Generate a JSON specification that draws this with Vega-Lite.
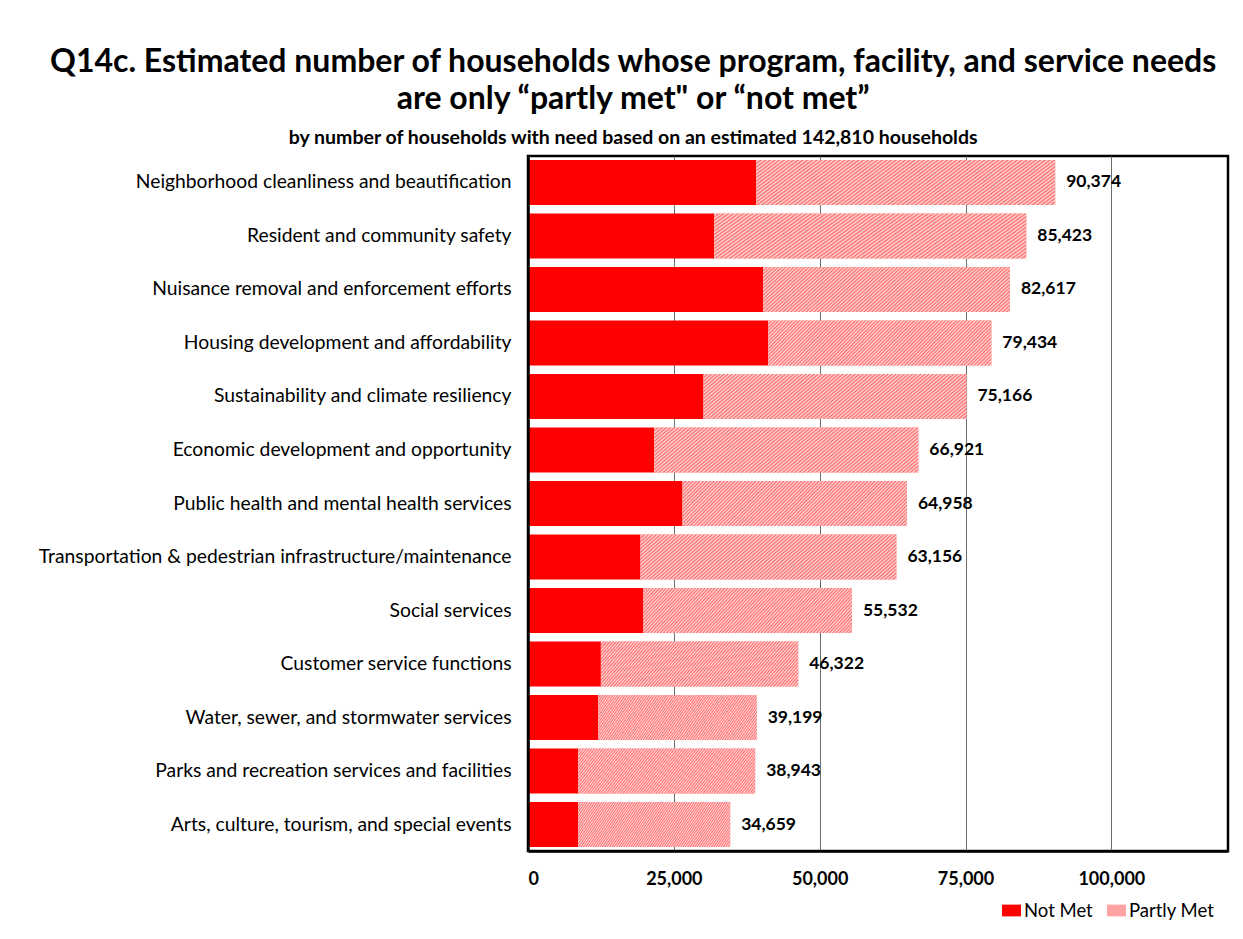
{
  "$schema": "https://vega.github.io/schema/vega-lite/v6.json",
  "width": 700,
  "height": 695,
  "autosize": {"type": "none"},
  "padding": {"left": 528, "top": 156, "right": 15, "bottom": 88},
  "background": "white",
  "title": {
    "text": ["Q14c. Estimated number of households whose program, facility, and service needs", "are only “partly met\" or “not met”"],
    "subtitle": "by number of households with need based on an estimated 142,810 households",
    "anchor": "middle",
    "frame": "bounds",
    "font": "Lato",
    "fontSize": 32,
    "fontWeight": "bold",
    "color": "#000000",
    "lineHeight": 37,
    "subtitleFont": "Lato",
    "subtitleFontSize": 19.5,
    "subtitleFontWeight": "bold",
    "subtitleColor": "#000000",
    "subtitlePadding": 13,
    "offset": 8
  },
  "data": {
    "values": [
      {"category": "Neighborhood cleanliness and beautification", "status": "Not Met", "households": 39150},
      {"category": "Neighborhood cleanliness and beautification", "status": "Partly Met", "households": 51224},
      {"category": "Resident and community safety", "status": "Not Met", "households": 31900},
      {"category": "Resident and community safety", "status": "Partly Met", "households": 53523},
      {"category": "Nuisance removal and enforcement efforts", "status": "Not Met", "households": 40300},
      {"category": "Nuisance removal and enforcement efforts", "status": "Partly Met", "households": 42317},
      {"category": "Housing development and affordability", "status": "Not Met", "households": 41200},
      {"category": "Housing development and affordability", "status": "Partly Met", "households": 38234},
      {"category": "Sustainability and climate resiliency", "status": "Not Met", "households": 30100},
      {"category": "Sustainability and climate resiliency", "status": "Partly Met", "households": 45066},
      {"category": "Economic development and opportunity", "status": "Not Met", "households": 21600},
      {"category": "Economic development and opportunity", "status": "Partly Met", "households": 45321},
      {"category": "Public health and mental health services", "status": "Not Met", "households": 26500},
      {"category": "Public health and mental health services", "status": "Partly Met", "households": 38458},
      {"category": "Transportation & pedestrian infrastructure/maintenance", "status": "Not Met", "households": 19300},
      {"category": "Transportation & pedestrian infrastructure/maintenance", "status": "Partly Met", "households": 43856},
      {"category": "Social services", "status": "Not Met", "households": 19800},
      {"category": "Social services", "status": "Partly Met", "households": 35732},
      {"category": "Customer service functions", "status": "Not Met", "households": 12500},
      {"category": "Customer service functions", "status": "Partly Met", "households": 33822},
      {"category": "Water, sewer, and stormwater services", "status": "Not Met", "households": 12000},
      {"category": "Water, sewer, and stormwater services", "status": "Partly Met", "households": 27199},
      {"category": "Parks and recreation services and facilities", "status": "Not Met", "households": 8600},
      {"category": "Parks and recreation services and facilities", "status": "Partly Met", "households": 30343},
      {"category": "Arts, culture, tourism, and special events", "status": "Not Met", "households": 8600},
      {"category": "Arts, culture, tourism, and special events", "status": "Partly Met", "households": 26059}
    ]
  },
  "encoding": {
    "y": {
      "field": "category",
      "type": "nominal",
      "sort": [
        "Neighborhood cleanliness and beautification",
        "Resident and community safety",
        "Nuisance removal and enforcement efforts",
        "Housing development and affordability",
        "Sustainability and climate resiliency",
        "Economic development and opportunity",
        "Public health and mental health services",
        "Transportation & pedestrian infrastructure/maintenance",
        "Social services",
        "Customer service functions",
        "Water, sewer, and stormwater services",
        "Parks and recreation services and facilities",
        "Arts, culture, tourism, and special events"
      ],
      "scale": {"paddingInner": 0.16, "paddingOuter": 0.075},
      "axis": {
        "title": null,
        "labelFont": "Lato",
        "labelFontSize": 19.3,
        "labelColor": "#000000",
        "labelLimit": 0,
        "labelPadding": 17,
        "ticks": false,
        "domain": true,
        "domainColor": "#000000",
        "domainWidth": 2.5,
        "zindex": 1
      }
    }
  },
  "layer": [
    {
      "mark": {"type": "bar"},
      "encoding": {
        "x": {
          "field": "households",
          "type": "quantitative",
          "stack": "zero",
          "scale": {"domain": [0, 120000], "nice": false},
          "axis": {
            "title": null,
            "values": [0, 25000, 50000, 75000, 100000],
            "format": ",.0f",
            "grid": true,
            "gridColor": "#6e6e6e",
            "gridWidth": 1,
            "ticks": false,
            "domain": true,
            "domainColor": "#000000",
            "domainWidth": 2.5,
            "labelFont": "Lato",
            "labelFontSize": 18,
            "labelFontWeight": "bold",
            "labelColor": "#000000",
            "labelPadding": 19,
            "zindex": 0
          }
        },
        "color": {
          "field": "status",
          "type": "nominal",
          "scale": {"domain": ["Not Met", "Partly Met"], "range": ["#ff0000", "#ffa3a3"]},
          "legend": {
            "title": null,
            "orient": "none",
            "legendX": 474,
            "legendY": 745,
            "direction": "horizontal",
            "symbolType": "M-1,-0.62H1V0.62H-1Z",
            "symbolSize": 361,
            "symbolStrokeWidth": 0,
            "symbolOpacity": 1,
            "labelFont": "Lato",
            "labelFontSize": 18.5,
            "labelColor": "#000000",
            "labelOffset": 3,
            "columnPadding": 14,
            "padding": 0
          }
        }
      }
    },
    {
      "mark": {
        "type": "bar",
        "fill": {
          "gradient": "linear",
          "x1": 0, "y1": 0, "x2": 1.2, "y2": 0.24,
          "stops": [
            {"offset": 0, "color": "#ff6a6a"}, {"offset": 0.00625, "color": "#ffdddd"}, {"offset": 0.0125, "color": "#ff6a6a"}, {"offset": 0.01875, "color": "#ffdddd"},
            {"offset": 0.025, "color": "#ff6a6a"}, {"offset": 0.03125, "color": "#ffdddd"}, {"offset": 0.0375, "color": "#ff6a6a"}, {"offset": 0.04375, "color": "#ffdddd"},
            {"offset": 0.05, "color": "#ff6a6a"}, {"offset": 0.05625, "color": "#ffdddd"}, {"offset": 0.0625, "color": "#ff6a6a"}, {"offset": 0.06875, "color": "#ffdddd"},
            {"offset": 0.075, "color": "#ff6a6a"}, {"offset": 0.08125, "color": "#ffdddd"}, {"offset": 0.0875, "color": "#ff6a6a"}, {"offset": 0.09375, "color": "#ffdddd"},
            {"offset": 0.1, "color": "#ff6a6a"}, {"offset": 0.10625, "color": "#ffdddd"}, {"offset": 0.1125, "color": "#ff6a6a"}, {"offset": 0.11875, "color": "#ffdddd"},
            {"offset": 0.125, "color": "#ff6a6a"}, {"offset": 0.13125, "color": "#ffdddd"}, {"offset": 0.1375, "color": "#ff6a6a"}, {"offset": 0.14375, "color": "#ffdddd"},
            {"offset": 0.15, "color": "#ff6a6a"}, {"offset": 0.15625, "color": "#ffdddd"}, {"offset": 0.1625, "color": "#ff6a6a"}, {"offset": 0.16875, "color": "#ffdddd"},
            {"offset": 0.175, "color": "#ff6a6a"}, {"offset": 0.18125, "color": "#ffdddd"}, {"offset": 0.1875, "color": "#ff6a6a"}, {"offset": 0.19375, "color": "#ffdddd"},
            {"offset": 0.2, "color": "#ff6a6a"}, {"offset": 0.20625, "color": "#ffdddd"}, {"offset": 0.2125, "color": "#ff6a6a"}, {"offset": 0.21875, "color": "#ffdddd"},
            {"offset": 0.225, "color": "#ff6a6a"}, {"offset": 0.23125, "color": "#ffdddd"}, {"offset": 0.2375, "color": "#ff6a6a"}, {"offset": 0.24375, "color": "#ffdddd"},
            {"offset": 0.25, "color": "#ff6a6a"}, {"offset": 0.25625, "color": "#ffdddd"}, {"offset": 0.2625, "color": "#ff6a6a"}, {"offset": 0.26875, "color": "#ffdddd"},
            {"offset": 0.275, "color": "#ff6a6a"}, {"offset": 0.28125, "color": "#ffdddd"}, {"offset": 0.2875, "color": "#ff6a6a"}, {"offset": 0.29375, "color": "#ffdddd"},
            {"offset": 0.3, "color": "#ff6a6a"}, {"offset": 0.30625, "color": "#ffdddd"}, {"offset": 0.3125, "color": "#ff6a6a"}, {"offset": 0.31875, "color": "#ffdddd"},
            {"offset": 0.325, "color": "#ff6a6a"}, {"offset": 0.33125, "color": "#ffdddd"}, {"offset": 0.3375, "color": "#ff6a6a"}, {"offset": 0.34375, "color": "#ffdddd"},
            {"offset": 0.35, "color": "#ff6a6a"}, {"offset": 0.35625, "color": "#ffdddd"}, {"offset": 0.3625, "color": "#ff6a6a"}, {"offset": 0.36875, "color": "#ffdddd"},
            {"offset": 0.375, "color": "#ff6a6a"}, {"offset": 0.38125, "color": "#ffdddd"}, {"offset": 0.3875, "color": "#ff6a6a"}, {"offset": 0.39375, "color": "#ffdddd"},
            {"offset": 0.4, "color": "#ff6a6a"}, {"offset": 0.40625, "color": "#ffdddd"}, {"offset": 0.4125, "color": "#ff6a6a"}, {"offset": 0.41875, "color": "#ffdddd"},
            {"offset": 0.425, "color": "#ff6a6a"}, {"offset": 0.43125, "color": "#ffdddd"}, {"offset": 0.4375, "color": "#ff6a6a"}, {"offset": 0.44375, "color": "#ffdddd"},
            {"offset": 0.45, "color": "#ff6a6a"}, {"offset": 0.45625, "color": "#ffdddd"}, {"offset": 0.4625, "color": "#ff6a6a"}, {"offset": 0.46875, "color": "#ffdddd"},
            {"offset": 0.475, "color": "#ff6a6a"}, {"offset": 0.48125, "color": "#ffdddd"}, {"offset": 0.4875, "color": "#ff6a6a"}, {"offset": 0.49375, "color": "#ffdddd"},
            {"offset": 0.5, "color": "#ff6a6a"}, {"offset": 0.50625, "color": "#ffdddd"}, {"offset": 0.5125, "color": "#ff6a6a"}, {"offset": 0.51875, "color": "#ffdddd"},
            {"offset": 0.525, "color": "#ff6a6a"}, {"offset": 0.53125, "color": "#ffdddd"}, {"offset": 0.5375, "color": "#ff6a6a"}, {"offset": 0.54375, "color": "#ffdddd"},
            {"offset": 0.55, "color": "#ff6a6a"}, {"offset": 0.55625, "color": "#ffdddd"}, {"offset": 0.5625, "color": "#ff6a6a"}, {"offset": 0.56875, "color": "#ffdddd"},
            {"offset": 0.575, "color": "#ff6a6a"}, {"offset": 0.58125, "color": "#ffdddd"}, {"offset": 0.5875, "color": "#ff6a6a"}, {"offset": 0.59375, "color": "#ffdddd"},
            {"offset": 0.6, "color": "#ff6a6a"}, {"offset": 0.60625, "color": "#ffdddd"}, {"offset": 0.6125, "color": "#ff6a6a"}, {"offset": 0.61875, "color": "#ffdddd"},
            {"offset": 0.625, "color": "#ff6a6a"}, {"offset": 0.63125, "color": "#ffdddd"}, {"offset": 0.6375, "color": "#ff6a6a"}, {"offset": 0.64375, "color": "#ffdddd"},
            {"offset": 0.65, "color": "#ff6a6a"}, {"offset": 0.65625, "color": "#ffdddd"}, {"offset": 0.6625, "color": "#ff6a6a"}, {"offset": 0.66875, "color": "#ffdddd"},
            {"offset": 0.675, "color": "#ff6a6a"}, {"offset": 0.68125, "color": "#ffdddd"}, {"offset": 0.6875, "color": "#ff6a6a"}, {"offset": 0.69375, "color": "#ffdddd"},
            {"offset": 0.7, "color": "#ff6a6a"}, {"offset": 0.70625, "color": "#ffdddd"}, {"offset": 0.7125, "color": "#ff6a6a"}, {"offset": 0.71875, "color": "#ffdddd"},
            {"offset": 0.725, "color": "#ff6a6a"}, {"offset": 0.73125, "color": "#ffdddd"}, {"offset": 0.7375, "color": "#ff6a6a"}, {"offset": 0.74375, "color": "#ffdddd"},
            {"offset": 0.75, "color": "#ff6a6a"}, {"offset": 0.75625, "color": "#ffdddd"}, {"offset": 0.7625, "color": "#ff6a6a"}, {"offset": 0.76875, "color": "#ffdddd"},
            {"offset": 0.775, "color": "#ff6a6a"}, {"offset": 0.78125, "color": "#ffdddd"}, {"offset": 0.7875, "color": "#ff6a6a"}, {"offset": 0.79375, "color": "#ffdddd"},
            {"offset": 0.8, "color": "#ff6a6a"}, {"offset": 0.80625, "color": "#ffdddd"}, {"offset": 0.8125, "color": "#ff6a6a"}, {"offset": 0.81875, "color": "#ffdddd"},
            {"offset": 0.825, "color": "#ff6a6a"}, {"offset": 0.83125, "color": "#ffdddd"}, {"offset": 0.8375, "color": "#ff6a6a"}, {"offset": 0.84375, "color": "#ffdddd"},
            {"offset": 0.85, "color": "#ff6a6a"}, {"offset": 0.85625, "color": "#ffdddd"}, {"offset": 0.8625, "color": "#ff6a6a"}, {"offset": 0.86875, "color": "#ffdddd"},
            {"offset": 0.875, "color": "#ff6a6a"}, {"offset": 0.88125, "color": "#ffdddd"}, {"offset": 0.8875, "color": "#ff6a6a"}, {"offset": 0.89375, "color": "#ffdddd"},
            {"offset": 0.9, "color": "#ff6a6a"}, {"offset": 0.90625, "color": "#ffdddd"}, {"offset": 0.9125, "color": "#ff6a6a"}, {"offset": 0.91875, "color": "#ffdddd"},
            {"offset": 0.925, "color": "#ff6a6a"}, {"offset": 0.93125, "color": "#ffdddd"}, {"offset": 0.9375, "color": "#ff6a6a"}, {"offset": 0.94375, "color": "#ffdddd"},
            {"offset": 0.95, "color": "#ff6a6a"}, {"offset": 0.95625, "color": "#ffdddd"}, {"offset": 0.9625, "color": "#ff6a6a"}, {"offset": 0.96875, "color": "#ffdddd"},
            {"offset": 0.975, "color": "#ff6a6a"}, {"offset": 0.98125, "color": "#ffdddd"}, {"offset": 0.9875, "color": "#ff6a6a"}, {"offset": 0.99375, "color": "#ffdddd"},
            {"offset": 1, "color": "#ff6a6a"}
          ]
        }
      },
      "encoding": {
        "x": {"field": "households", "type": "quantitative", "stack": "zero"},
        "detail": {"field": "status", "type": "nominal"},
        "opacity": {"condition": {"test": "datum.status === 'Not Met'", "value": 0}, "value": 1}
      }
    },
    {
      "transform": [
        {"aggregate": [{"op": "sum", "field": "households", "as": "total"}], "groupby": ["category"]}
      ],
      "mark": {"type": "text", "align": "left", "baseline": "middle", "dx": 11, "font": "Lato", "fontSize": 17.5, "fontWeight": "bold", "color": "#000000"},
      "encoding": {
        "x": {"field": "total", "type": "quantitative"},
        "text": {"field": "total", "type": "quantitative", "format": ",.0f"}
      }
    }
  ],
  "config": {
    "view": {"stroke": "#000000", "strokeWidth": 2.5}
  }
}
